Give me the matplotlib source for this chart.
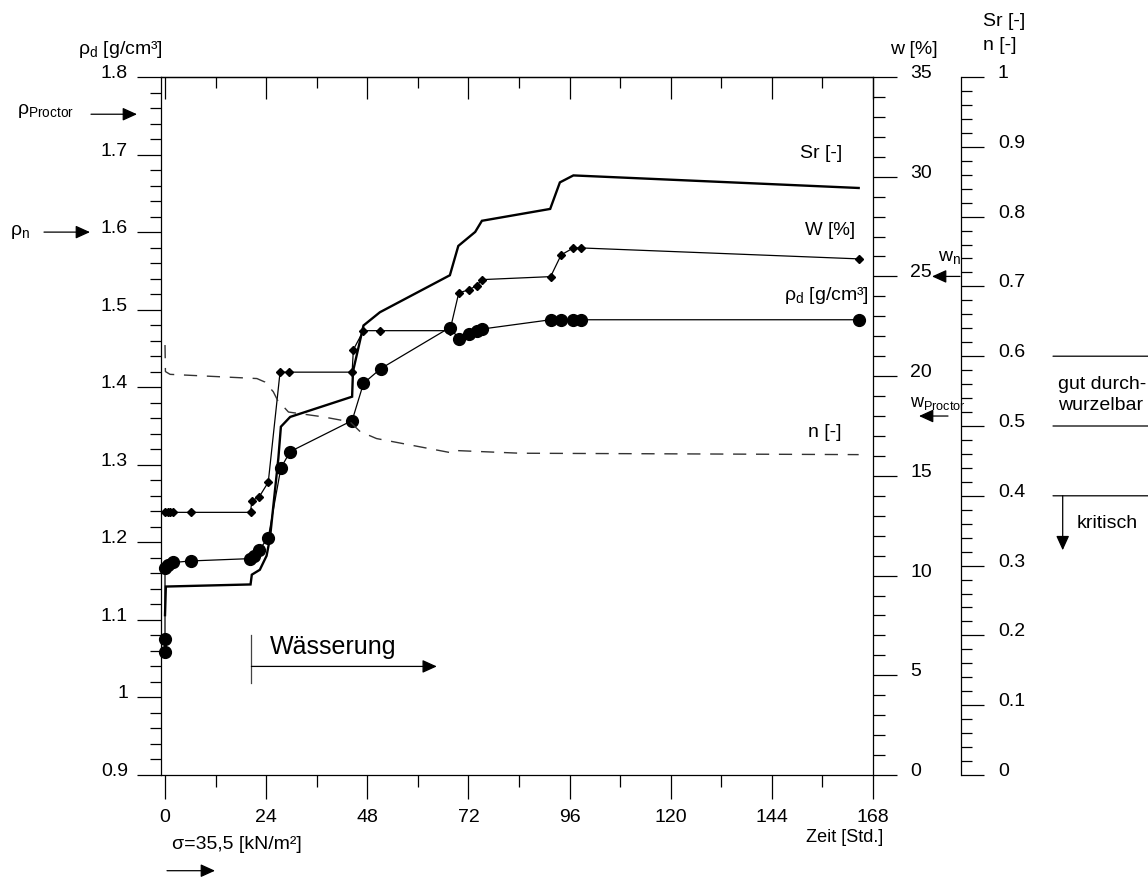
import matplotlib
matplotlib.use("Agg")
import matplotlib.pyplot as plt
from matplotlib.ticker import FixedLocator, MultipleLocator

plt.rcParams['font.family'] = ['Liberation Sans', 'DejaVu Sans']
plt.rcParams['mathtext.fontset'] = 'custom'
plt.rcParams['mathtext.rm'] = 'Liberation Sans'
plt.rcParams['mathtext.it'] = 'Liberation Sans:italic'
plt.rcParams['lines.scale_dashes'] = False

# ---------------- data ----------------
t_rho = [0, 0, 0, 0.8, 2.0, 6.1, 20.2, 21.0, 22.3, 24.5, 27.5, 29.7, 44.4, 47.1, 51.2,
         67.6, 69.8, 72.2, 74.0, 75.2, 91.5, 94.0, 96.9, 98.6, 164.6]
rho_d = [1.058, 1.076, 1.167, 1.171, 1.174, 1.176, 1.179, 1.183, 1.190, 1.206, 1.296, 1.317,
         1.357, 1.405, 1.424, 1.477, 1.462, 1.468, 1.472, 1.475, 1.487, 1.487, 1.487, 1.487, 1.487]

t_w = [0, 0.6, 1.3, 2.0, 6.1, 20.3, 20.6, 22.3, 24.5, 27.3, 29.5, 44.4, 44.7, 47.1, 51.0,
       67.6, 69.7, 72.2, 74.0, 75.2, 91.5, 94.0, 96.9, 98.6, 164.6]
w_pct = [13.17, 13.17, 13.17, 13.17, 13.17, 13.17, 13.76, 13.93, 14.68, 20.2, 20.2, 20.2, 21.33,
         22.28, 22.28, 22.28, 24.17, 24.34, 24.54, 24.84, 24.99, 26.08, 26.43, 26.43, 25.88]

t_sr = [0, 0.2, 20.3, 20.6, 22.5, 24.1, 24.9, 26.9, 27.5, 29.7, 44.4, 44.6, 47.1, 51.0,
        67.6, 69.6, 73.6, 75.2, 91.4, 93.7, 96.9, 164.6]
sr = [0.229, 0.270, 0.273, 0.287, 0.294, 0.314, 0.339, 0.454, 0.499, 0.513, 0.542, 0.578,
      0.644, 0.663, 0.716, 0.758, 0.778, 0.794, 0.811, 0.849, 0.859, 0.841]

t_n = [0, 0.1, 1.2, 21.8, 23.7, 25.7, 26.7, 29.3, 37.6, 43.9, 46.3, 50.2, 67.6, 68.4, 84.2, 164.6]
n_por = [0.616, 0.578, 0.574, 0.568, 0.563, 0.549, 0.537, 0.520, 0.513, 0.506, 0.492, 0.482,
         0.462, 0.465, 0.461, 0.459]

x_ticks = [0, 24, 48, 72, 96, 120, 144, 168]
x_labels = ['0', '24', '48', '72', '96', '120', '144', '168']
rho_ticks = [0.9, 1.0, 1.1, 1.2, 1.3, 1.4, 1.5, 1.6, 1.7, 1.8]
rho_labels = ['0.9', '1', '1.1', '1.2', '1.3', '1.4', '1.5', '1.6', '1.7', '1.8']
w_ticks = [0, 5, 10, 15, 20, 25, 30, 35]
w_labels = ['0', '5', '10', '15', '20', '25', '30', '35']
sr_ticks = [0, 0.1, 0.2, 0.3, 0.4, 0.5, 0.6, 0.7, 0.8, 0.9, 1.0]
sr_labels = ['0', '0.1', '0.2', '0.3', '0.4', '0.5', '0.6', '0.7', '0.8', '0.9', '1']

rho_proctor = 1.752
rho_n = 1.60
w_n = 25.0
w_proctor = 18.0

# ---------------- layout ----------------
W, H = 1148, 879
fig = plt.figure(figsize=(W / 100, H / 100), dpi=100)
L, R, T, B = 161, 873, 78, 776
ax = fig.add_axes([L / W, (H - B) / H, (R - L) / W, (B - T) / H])
ax.set_xlim(-0.95, 168)
ax.set_ylim(0.9, 1.8)

def fx(x):
    return x / W

def fy(y):
    return 1 - y / H

K = 'black'
SP = 0.9
FS = 14

for s in ['right']:
    ax.spines[s].set_visible(False)
for s in ['left', 'top', 'bottom']:
    ax.spines[s].set_linewidth(SP)

# x axis bottom
ax.set_xticks(x_ticks, x_labels)
ax.xaxis.set_minor_locator(MultipleLocator(12))
ax.tick_params(axis='x', which='major', direction='out', length=17.3, width=SP, pad=6.5, labelsize=FS)
ax.tick_params(axis='x', which='minor', direction='out', length=8.6, width=SP)

# top ticks (inward)
sec = ax.secondary_xaxis('top')
sec.set_xticks(x_ticks)
sec.xaxis.set_minor_locator(MultipleLocator(12))
sec.tick_params(axis='x', which='major', direction='in', length=15.8, width=SP, labeltop=False)
sec.tick_params(axis='x', which='minor', direction='in', length=7.9, width=SP)
sec.spines['top'].set_linewidth(SP)

# left rho axis
ax.set_yticks(rho_ticks, rho_labels)
ax.yaxis.set_minor_locator(MultipleLocator(0.02))
ax.tick_params(axis='y', which='major', direction='out', length=17.3, width=SP, pad=6.5, labelsize=FS)
ax.tick_params(axis='y', which='minor', direction='out', length=7.9, width=SP)
for lab in ax.get_yticklabels():
    lab.set_verticalalignment('baseline')

# w axis
axw = ax.twinx()
axw.set_ylim(0, 35)
for s in ['left', 'top', 'bottom']:
    axw.spines[s].set_visible(False)
axw.spines['right'].set_linewidth(SP)
axw.set_yticks(w_ticks, w_labels)
axw.yaxis.set_minor_locator(MultipleLocator(1))
axw.tick_params(axis='y', which='major', direction='out', length=17.3, width=SP, pad=9.4, labelsize=FS)
axw.tick_params(axis='y', which='minor', direction='out', length=8.6, width=SP)
for lab in axw.get_yticklabels():
    lab.set_verticalalignment('baseline')

# Sr / n axis
axs = ax.twinx()
axs.set_ylim(0, 1.0)
for s in ['left', 'top', 'bottom']:
    axs.spines[s].set_visible(False)
axs.spines['right'].set_position(('axes', (961 - L) / (R - L)))
axs.spines['right'].set_linewidth(SP)
axs.set_yticks(sr_ticks, sr_labels)
axs.yaxis.set_minor_locator(MultipleLocator(0.02))
axs.tick_params(axis='y', which='major', direction='out', length=16.5, width=SP, pad=10, labelsize=FS)
axs.tick_params(axis='y', which='minor', direction='out', length=7.9, width=SP)
for lab in axs.get_yticklabels():
    lab.set_verticalalignment('baseline')

# ---------------- series ----------------
axs.plot(t_n, n_por, color='#333333', lw=1.0, dashes=(9.5, 7.0), zorder=2)
axs.plot(t_sr, sr, color=K, lw=1.7, zorder=3, solid_joinstyle='miter')
ax.plot(t_rho, rho_d, color=K, lw=0.9, marker='o', ms=8.5, mfc=K, mec=K,
        clip_on=False, zorder=4)
axw.plot(t_w, w_pct, color=K, lw=0.9, marker='D', ms=4.4, mfc=K, mec=K,
         clip_on=False, zorder=5)

# ---------------- inline labels ----------------
ax.text(150.7, 1.703, 'Sr [-]', fontsize=FS, ha='left', va='center')
ax.text(151.9, 1.604, 'W [%]', fontsize=13.5, ha='left', va='center')
ax.text(146.9, 1.520, r'$\mathrm{ρ}_\mathrm{d}$ [g/cm³]', fontsize=FS, ha='left', va='center')
ax.text(152.6, 1.3435, 'n [-]', fontsize=FS, ha='left', va='center')

# Wässerung marker
ax.plot([20.5, 20.5], [1.0186, 1.0805], color='#444444', lw=0.9)
ax.annotate('', xy=(64.5, 1.040), xytext=(20.5, 1.040),
            arrowprops=dict(arrowstyle='-|>,head_length=0.55,head_width=0.25',
                            mutation_scale=16, lw=0.9, color=K, shrinkA=0, shrinkB=0))
ax.text(24.9, 1.0573, 'Wässerung', fontsize=18, ha='left', va='baseline')

# ---------------- axis titles ----------------
fig.text(fx(78), fy(50), r'$\mathrm{ρ}_\mathrm{d}$ [g/cm³]', fontsize=FS, ha='left', va='center')
fig.text(fx(890), fy(50), 'w [%]', fontsize=FS, ha='left', va='center')
fig.text(fx(983), fy(22), 'Sr [-]', fontsize=FS, ha='left', va='center')
fig.text(fx(983), fy(46), 'n [-]', fontsize=FS, ha='left', va='center')
fig.text(fx(883), fy(838), 'Zeit [Std.]', fontsize=13, ha='right', va='center')
fig.text(fx(172), fy(845), 'σ=35,5 [kN/m²]', fontsize=14, ha='left', va='center')

arrow_kw = dict(arrowstyle='-|>,head_length=0.55,head_width=0.25',
                mutation_scale=16, lw=0.9, color=K, shrinkA=0, shrinkB=0)

# sigma arrow
ax.annotate('', xy=(215, H - 871.7), xytext=(167, H - 871.7), xycoords='figure pixels',
            textcoords='figure pixels', arrowprops=arrow_kw, annotation_clip=False)

# rho Proctor / rho_n arrows (left)
fig.text(fx(17), fy(111), r'$\mathrm{ρ}_\mathrm{Proctor}$', fontsize=FS, ha='left', va='center')
ax.annotate('', xy=(137, rho_proctor), xytext=(91, rho_proctor),
            xycoords=('figure pixels', 'data'), textcoords=('figure pixels', 'data'),
            arrowprops=arrow_kw, annotation_clip=False)
fig.text(fx(10), fy(232), r'$\mathrm{ρ}_\mathrm{n}$', fontsize=FS, ha='left', va='center')
ax.annotate('', xy=(90, rho_n), xytext=(44, rho_n),
            xycoords=('figure pixels', 'data'), textcoords=('figure pixels', 'data'),
            arrowprops=arrow_kw, annotation_clip=False)

# w_n / w_Proctor arrows (right)
fig.text(fx(938), fy(257), r'$\mathrm{w}_\mathrm{n}$', fontsize=FS, ha='left', va='center')
axw.annotate('', xy=(932, w_n), xytext=(960, w_n),
             xycoords=('figure pixels', 'data'), textcoords=('figure pixels', 'data'),
             arrowprops=arrow_kw, annotation_clip=False)
fig.text(fx(910), fy(404), r'$\mathrm{w}_\mathrm{Proctor}$', fontsize=13, ha='left', va='center')
axw.annotate('', xy=(919, w_proctor), xytext=(948, w_proctor),
             xycoords=('figure pixels', 'data'), textcoords=('figure pixels', 'data'),
             arrowprops=arrow_kw, annotation_clip=False)

# right-hand classification
for yv in [0.6, 0.5, 0.4]:
    axs.annotate('', xy=(1148, yv), xytext=(1053, yv),
                 xycoords=('figure pixels', 'data'), textcoords=('figure pixels', 'data'),
                 arrowprops=dict(arrowstyle='-', lw=0.9, color=K, shrinkA=0, shrinkB=0),
                 annotation_clip=False)
fig.text(fx(1058), fy(385), 'gut durch-', fontsize=FS, ha='left', va='center')
fig.text(fx(1058), fy(406), 'wurzelbar', fontsize=FS, ha='left', va='center')
axs.annotate('', xy=(1062.7, 0.322), xytext=(1062.7, 0.4),
             xycoords=('figure pixels', 'data'), textcoords=('figure pixels', 'data'),
             arrowprops=arrow_kw, annotation_clip=False)
fig.text(fx(1077), fy(523), 'kritisch', fontsize=FS, ha='left', va='center')

fig.savefig('out.png', dpi=100)
